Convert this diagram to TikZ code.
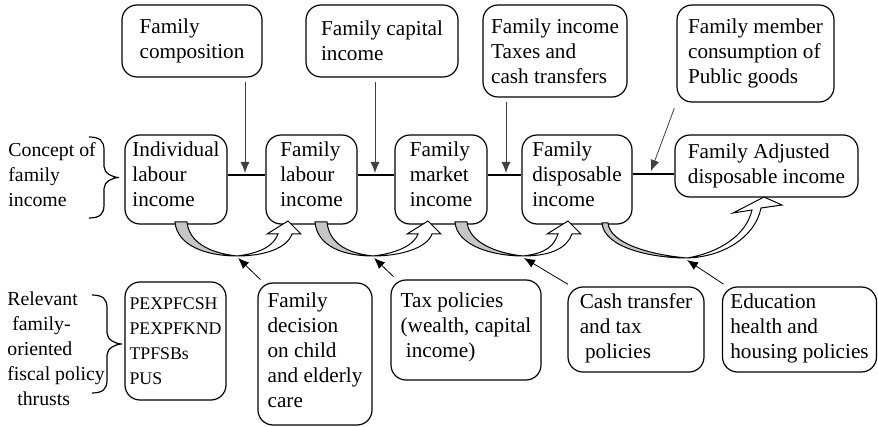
\documentclass[tikz,border=0pt]{standalone}
\usepackage{fontspec}
\setmainfont{Liberation Serif}
\newfontfamily\diagfont{Liberation Serif}
\usetikzlibrary{arrows.meta}
\tikzstyle{box}=[draw,rounded corners=7.5pt,align=left,inner sep=2pt,line width=0.6pt,font=\diagfont\fontsize{10.6}{12.5}\selectfont]
\tikzstyle{sidelabel}=[anchor=west,align=left,inner sep=0pt,font=\diagfont\fontsize{9.9}{12.5}\selectfont]
\tikzstyle{link}=[line width=1pt]
\tikzstyle{feed}=[-{Latex[length=5.5pt,width=4.5pt]},line width=0.4pt,shorten <=2pt]
\tikzstyle{bracket}=[line width=0.6pt]
\tikzstyle{curvepart}=[line width=0.5pt,line join=miter]
\newcommand{\drawcurvearrow}[3]{

\pgfmathsetmacro{\gl}{#1} % left edge of the grey tail
\pgfmathsetmacro{\bx}{#2} % lowest point
\pgfmathsetmacro{\tx}{#3} % tip of the head
\filldraw[curvepart,fill=gray!45] (\gl,222) .. controls ({\gl+2},246) and ({\bx-30},256) .. (\bx,256)
  .. controls ({\bx-28},253) and ({\gl+14},242) .. ({\gl+12},222) -- cycle;
\filldraw[curvepart,fill=white] (\bx,256) .. controls ({\bx+28},256) and ({\tx-1},248) .. ({\tx+4},234)
  -- ({\tx+13},234) -- (\tx,221) -- ({\tx-21},234) -- ({\tx-10},234)
  .. controls ({\tx-14},245) and ({\bx+25},253) .. (\bx,256) -- cycle;
}
\newcommand{\drawbrace}[4]{

\pgfmathsetmacro{\bxl}{#1} % open ends
\pgfmathsetmacro{\bxt}{#4} % tip
\pgfmathsetmacro{\bxm}{(#1+#4)/2}
\pgfmathsetmacro{\bym}{(#2+#3)/2}
\draw[bracket] (\bxl,#2) .. controls ({\bxm-4},#2) and (\bxm,{#2+4}) .. (\bxm,{#2+13})
  -- (\bxm,{\bym-11}) .. controls (\bxm,{\bym-4}) and ({\bxt-6},\bym) .. (\bxt,\bym)
  .. controls ({\bxt-6},\bym) and (\bxm,{\bym+4}) .. (\bxm,{\bym+11})
  -- (\bxm,{#3-13}) .. controls (\bxm,{#3-4}) and ({\bxm-4},#3) .. (\bxl,#3);
}

\begin{document}
\begin{tikzpicture}[x=0.5pt,y=-0.5pt]
  \useasboundingbox (0,0) rectangle (878,427);
  % top row
  \node[box,minimum width=70pt,minimum height=36pt] (comp) at (192,41) {Family\\composition};
  \node[box,minimum width=76pt,minimum height=36pt] (capital) at (382,41) {Family capital\\income};
  \node[box,minimum width=72pt,minimum height=46pt] (taxes) at (555,51) {Family income\\Taxes and\\cash transfers};
  \node[box,minimum width=78.5pt,minimum height=48.5pt,text depth=2pt] (public) at (755.5,53.5) {Family member\\consumption of\\Public goods};
  % income concepts
  \node[box,minimum width=51pt,minimum height=44.5pt,text depth=5pt] (ind) at (176,179.5) {Individual\\labour\\income};
  \node[box,minimum width=45.5pt,minimum height=44.5pt,text depth=5pt] (lab) at (311.5,179.5) {Family\\labour\\income};
  \node[box,minimum width=46pt,minimum height=44.5pt,text depth=5pt] (mkt) at (441,179.5) {Family\\market\\income};
  \node[box,minimum width=55pt,minimum height=44.5pt,text depth=5pt] (disp) at (577,179.5) {Family\\disposable\\income};
  \node[box,minimum width=91.5pt,minimum height=31pt] (adj) at (766.5,166) {Family Adjusted\\disposable income};
  % policies
  \node[box,minimum width=50.5pt,minimum height=59pt,font=\diagfont\fontsize{8.9}{12.5}\selectfont] (codes) at (175.5,341) {PEXPFCSH\\PEXPFKND\\TPFSBs\\PUS};
  \node[box,minimum width=57pt,minimum height=71pt,text depth=4pt] (care) at (315,354) {Family\\decision\\on child\\and elderly\\care};
  \node[box,minimum width=75pt,minimum height=50pt,text depth=5pt] (taxpol) at (466,330) {Tax policies\\(wealth, capital\\\ income)};
  \node[box,minimum width=68pt,minimum height=42.5pt,text depth=3pt] (cash) at (636,329.5) {Cash transfer\\and tax\\\ policies};
  \node[box,minimum width=77pt,minimum height=42.5pt,text depth=3pt] (edu) at (799.5,329.5) {Education\\health and\\housing policies};

  \node[sidelabel] (concept) at (8,175) {Concept of\\family\\income};
  \node[sidelabel] (thrusts) at (7,349) {Relevant\\\ family-\\oriented\\fiscal policy\\\ \ thrusts};
  \drawbrace{89}{137}{218}{119}
  \drawbrace{92}{295}{393}{122}

  \draw[link] ([yshift=2.25pt]ind.east) -- ([yshift=2.25pt]lab.west);
  \draw[link] ([yshift=2.25pt]lab.east) -- ([yshift=2.25pt]mkt.west);
  \draw[link] ([yshift=2.25pt]mkt.east) -- ([yshift=2.25pt]disp.west);
  \draw[link] ([yshift=2.5pt]disp.east) -- ([yshift=2.5pt]disp.east -| adj.west);

  \coordinate (j1) at (245,173);
  \coordinate (j2) at (375,173);
  \coordinate (j3) at (506,173);
  \coordinate (j4) at (651,171);
  \draw[feed,gray!50!black] (comp.south -| j1) -- (j1);
  \draw[feed,gray!50!black] (capital.south -| j2) -- (j2);
  \draw[feed,gray!50!black] (taxes.south -| j3) -- (j3);
  \draw[feed,gray!50!black,shorten <=3pt] (public.south west) -- (j4);

  \drawcurvearrow{175}{237}{288}
  \drawcurvearrow{315}{373}{428}
  \drawcurvearrow{455}{523}{568}
  \filldraw[curvepart,fill=gray!45] (602,223) .. controls (604,248) and (652,258) .. (687,258)
    .. controls (652,255) and (610,244) .. (608,223) -- cycle;
  \filldraw[curvepart,fill=white] (687,258) .. controls (722,257) and (755,238) .. (761,208)
    -- (782,205) -- (764,197) -- (733,213) -- (752,210)
    .. controls (746,236) and (718,253) .. (687,258) -- cycle;

  \coordinate (t1) at (238,258);
  \coordinate (t2) at (374,258);
  \coordinate (t3) at (524,258);
  \coordinate (t4) at (687,260);
  \draw[feed] ([xshift=3pt]care.north west) -- (t1);
  \draw[feed] ([xshift=3pt]taxpol.north west) -- (t2);
  \draw[feed] ([xshift=2pt]cash.north west) -- (t3);
  \draw[feed] ([xshift=2.5pt]edu.north west) -- (t4);
\end{tikzpicture}
\end{document}
